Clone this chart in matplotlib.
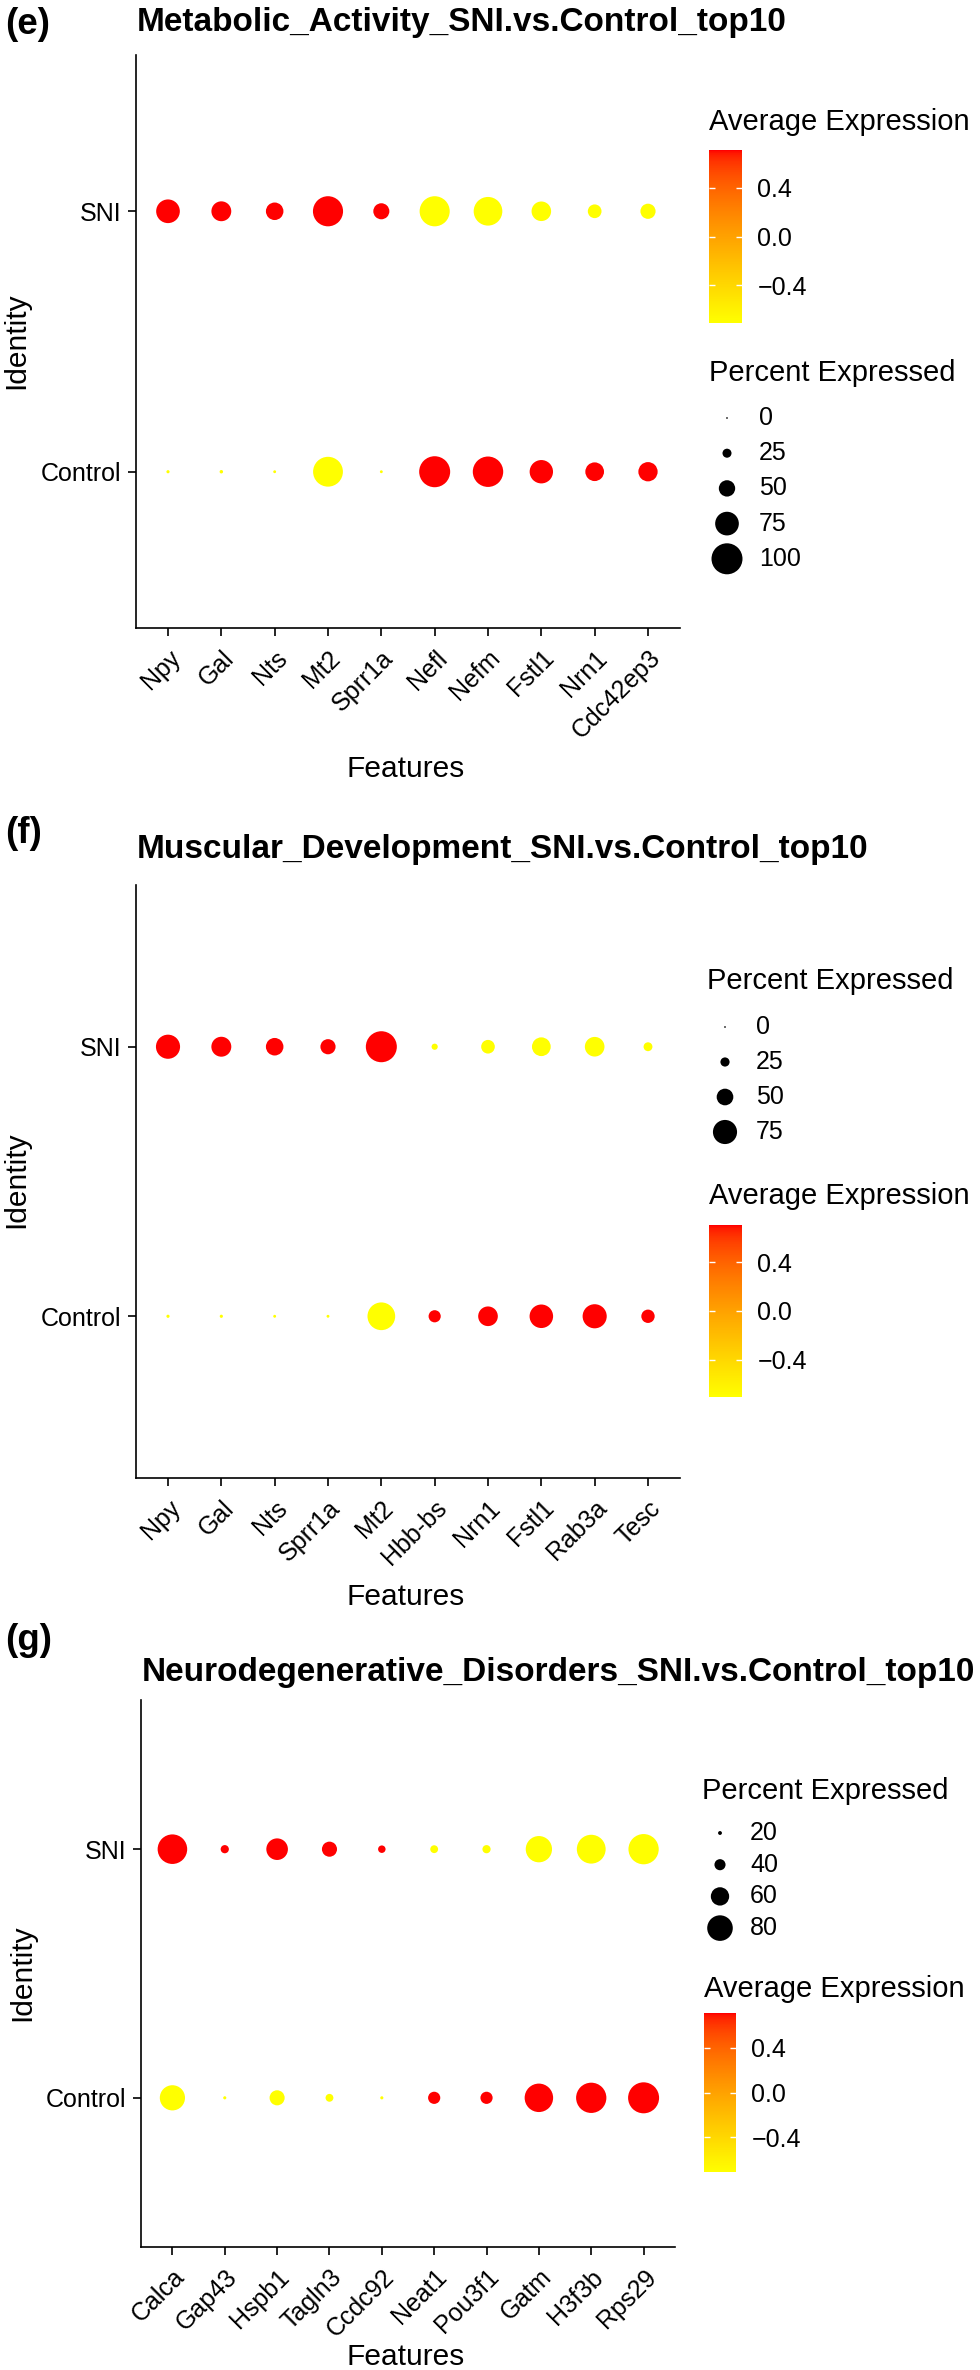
import numpy as np
import matplotlib

matplotlib.use('Agg')

import matplotlib.pyplot as plt
from matplotlib.colors import Normalize, ListedColormap
from matplotlib.cm import ScalarMappable

plt.rcParams['font.family'] = ['Liberation Sans', 'DejaVu Sans']
plt.rcParams['axes.unicode_minus'] = True

# ---- data ----
groups = ['Control', 'SNI']

genes_e = ['Npy', 'Gal', 'Nts', 'Mt2', 'Sprr1a', 'Nefl', 'Nefm', 'Fstl1', 'Nrn1', 'Cdc42ep3']
pct_e_sni = [75, 62, 54, 97, 49, 97, 92, 61, 41, 46]
pct_e_ctrl = [5, 6, 4, 96, 4, 100, 98, 74, 58, 60]
avg_e_sni = [0.707, 0.707, 0.707, 0.707, 0.707, -0.707, -0.707, -0.707, -0.707, -0.707]
avg_e_ctrl = [-0.707, -0.707, -0.707, -0.707, -0.707, 0.707, 0.707, 0.707, 0.707, 0.707]
pct_range_e = (0, 100)
pct_breaks_e = [0, 25, 50, 75, 100]

genes_f = ['Npy', 'Gal', 'Nts', 'Sprr1a', 'Mt2', 'Hbb-bs', 'Nrn1', 'Fstl1', 'Rab3a', 'Tesc']
pct_f_sni = [75, 61, 53, 45, 98, 15, 40, 57, 60, 24]
pct_f_ctrl = [5, 5, 4, 4, 87, 35, 60, 73, 75, 39]
avg_f_sni = [0.707, 0.707, 0.707, 0.707, 0.707, -0.707, -0.707, -0.707, -0.707, -0.707]
avg_f_ctrl = [-0.707, -0.707, -0.707, -0.707, -0.707, 0.707, 0.707, 0.707, 0.707, 0.707]
pct_range_f = (0, 98)
pct_breaks_f = [0, 25, 50, 75]

genes_g = ['Calca', 'Gap43', 'Hspb1', 'Tagln3', 'Ccdc92', 'Neat1', 'Pou3f1', 'Gatm', 'H3f3b', 'Rps29']
pct_g_sni = [91, 32, 69, 51, 30, 31, 32, 82, 89, 93]
pct_g_ctrl = [79, 18, 51, 31, 18, 43, 43, 88, 93, 95]
avg_g_sni = [0.707, 0.707, 0.707, 0.707, 0.707, -0.707, -0.707, -0.707, -0.707, -0.707]
avg_g_ctrl = [-0.707, -0.707, -0.707, -0.707, -0.707, 0.707, 0.707, 0.707, 0.707, 0.707]
pct_range_g = (14, 95)
pct_breaks_g = [20, 40, 60, 80]

avg_range = (-0.7071, 0.7071)
avg_ticks = [-0.4, 0.0, 0.4]
avg_ticklabels = ['\u22120.4', '0.0', '0.4']

# ---- yellow -> red gradient interpolated in CIELAB, like ggplot ----
M = np.array([[0.4124, 0.3576, 0.1805], [0.2126, 0.7152, 0.0722], [0.0193, 0.1192, 0.9505]])
WHITE = np.array([0.95047, 1.0, 1.08883])


def to_lab(rgb):
    c = np.asarray(rgb, float)
    lin = np.where(c <= 0.04045, c / 12.92, ((c + 0.055) / 1.055) ** 2.4)
    t = M @ lin / WHITE
    f = np.where(t > (6 / 29) ** 3, np.cbrt(t), t / (3 * (6 / 29) ** 2) + 4 / 29)
    return np.array([116 * f[1] - 16, 500 * (f[0] - f[1]), 200 * (f[1] - f[2])])


def from_lab(lab):
    L, a, b = lab
    fy = (L + 16) / 116
    f = np.array([fy + a / 500, fy, fy - b / 200])
    t = np.where(f > 6 / 29, f ** 3, 3 * (6 / 29) ** 2 * (f - 4 / 29)) * WHITE
    lin = np.linalg.solve(M, t)
    lin = np.clip(lin, 0, 1)
    c = np.where(lin <= 0.0031308, 12.92 * lin, 1.055 * lin ** (1 / 2.4) - 0.055)
    return np.clip(c, 0, 1)


lo_lab, hi_lab = to_lab([1, 1, 0]), to_lab([1, 0, 0])
cmap = ListedColormap([from_lab(lo_lab + (hi_lab - lo_lab) * t) for t in np.linspace(0, 1, 256)])
norm = Normalize(*avg_range)

# ---- layout helpers (pixels) ----
W, H = 980, 2370
fig = plt.figure(figsize=(W / 100, H / 100), dpi=100)
PT = 0.72  # points per pixel


def box(l, t, r, b):
    return [l / W, 1 - b / H, (r - l) / W, (b - t) / H]


def diam(p, rng):
    return 1.7 + 29.3 * (np.asarray(p, float) - rng[0]) / (rng[1] - rng[0])


over = fig.add_axes([0, 0, 1, 1], zorder=5)
over.set_xlim(0, W)
over.set_ylim(H, 0)
over.axis('off')


def panel(letter, title, genes, pct_sni, pct_ctrl, avg_sni, avg_ctrl, rng, breaks,
          ax_box, head_y, feat_y, ident, size_leg, color_leg, cbar_box):
    l, t, r, b = ax_box
    ax = fig.add_axes(box(l, t, r, b))
    x = np.arange(1, len(genes) + 1)
    for yv, pct, avg in [(1, pct_ctrl, avg_ctrl), (2, pct_sni, avg_sni)]:
        ax.scatter(x, np.full(len(x), yv), s=(diam(pct, rng) * PT) ** 2, c=avg,
                   cmap=cmap, norm=norm, edgecolors='none', zorder=3)
    ax.set_xlim(0.4, len(genes) + 0.6)
    ax.set_ylim(0.4, 2.6)
    ax.set_xticks(x)
    ax.set_xticklabels(genes, rotation=45, ha='right', va='top', rotation_mode='anchor')
    ax.set_yticks([1, 2])
    ax.set_yticklabels(groups)
    for s in ['top', 'right']:
        ax.spines[s].set_visible(False)
    for s in ['left', 'bottom']:
        ax.spines[s].set_linewidth(1.2)
    ax.tick_params(length=5.8, width=1.2, labelsize=18, pad=5)
    ax.tick_params(axis='x', pad=7)

    over.text(5, head_y[0], letter, fontsize=26.5, fontweight='bold', va='baseline')
    over.text(l + 1, head_y[1], title, fontsize=24, fontweight='bold', va='baseline')
    over.text(406, feat_y, 'Features', fontsize=21.5, ha='center', va='baseline')
    over.text(ident[0], ident[1], 'Identity', fontsize=21.5, rotation=90,
              ha='center', va='center')

    # size legend
    sx, sy0, sstep, slx, sty = size_leg
    over.text(sx - 18, sty, 'Percent Expressed', fontsize=21, va='baseline')
    yy = sy0 + sstep * np.arange(len(breaks))
    over.scatter(np.full(len(breaks), sx), yy, s=(diam(breaks, rng) * PT) ** 2,
                 c='black', edgecolors='none')
    for yb, bk in zip(yy, breaks):
        over.text(slx, yb, str(bk), fontsize=18, va='center')

    # colour legend
    cx, cty = color_leg
    over.text(cx, cty, 'Average Expression', fontsize=21, va='baseline')
    cax = fig.add_axes(box(*cbar_box))
    cb = fig.colorbar(ScalarMappable(norm=norm, cmap=cmap), cax=cax)
    cb.outline.set_visible(False)
    cb.set_ticks(avg_ticks)
    cb.set_ticklabels(avg_ticklabels)
    cax.minorticks_off()
    cax.yaxis.set_ticks_position('both')
    cax.tick_params(axis='y', direction='in', color='white', length=4.5, width=1,
                    labelsize=18, pad=11, labelleft=False, labelright=True)


panel('(e)', 'Metabolic_Activity_SNI.vs.Control_top10', genes_e,
      pct_e_sni, pct_e_ctrl, avg_e_sni, avg_e_ctrl, pct_range_e, pct_breaks_e,
      (136, 55, 680, 628), (34, 31), 777, (16, 341),
      (727, 418, 35.2, 759, 381), (709, 130), (709, 150, 742, 323))

panel('(f)', 'Muscular_Development_SNI.vs.Control_top10', genes_f,
      pct_f_sni, pct_f_ctrl, avg_f_sni, avg_f_ctrl, pct_range_f, pct_breaks_f,
      (136, 885, 680, 1478), (843, 858), 1605, (16, 1180),
      (725, 1027, 35, 756, 989), (709, 1204), (709, 1225, 742, 1397))

panel('(g)', 'Neurodegenerative_Disorders_SNI.vs.Control_top10', genes_g,
      pct_g_sni, pct_g_ctrl, avg_g_sni, avg_g_ctrl, pct_range_g, pct_breaks_g,
      (141, 1700, 675, 2247), (1650, 1681), 2365, (22, 1973),
      (720, 1833, 31.7, 750, 1799), (704, 1997), (704, 2013, 736, 2172))

fig.savefig('out.png', dpi=100)
